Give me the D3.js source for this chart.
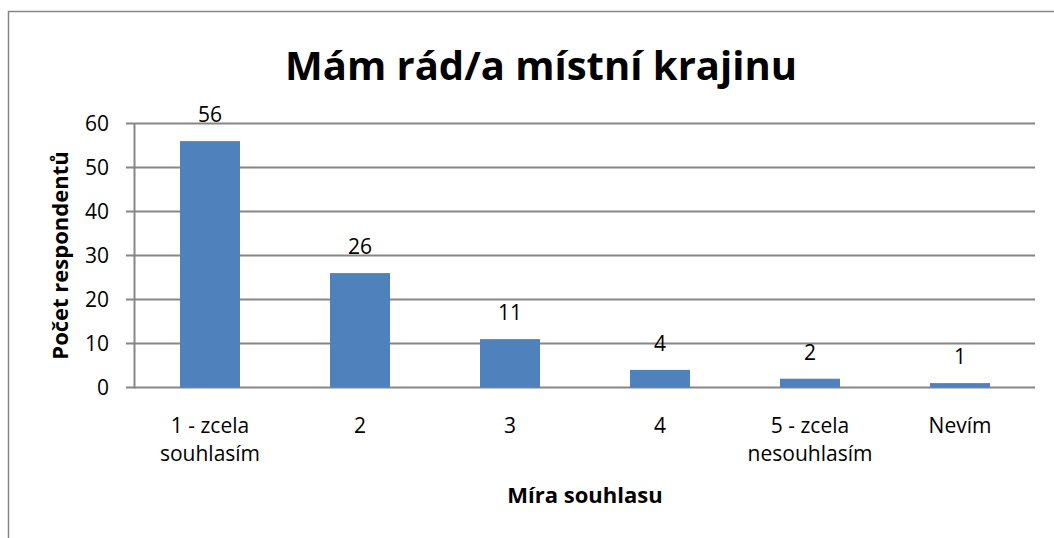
<!DOCTYPE html>
<html>
<head>
<meta charset="utf-8">
<script src="https://cdn.jsdelivr.net/npm/d3@7"></script>
<style>
  body { margin: 0; background: #fff; }
  text { font-family: "Open Sans", Lato, sans-serif; fill: #000; }
</style>
</head>
<body>
<div id="chart"></div>
<script>
const categories = [["1 - zcela", "souhlasím"], ["2"], ["3"], ["4"], ["5 - zcela", "nesouhlasím"], ["Nevím"]];
const values = [56, 26, 11, 4, 2, 1];
const yTicks = [0, 10, 20, 30, 40, 50, 60];
const titleText = "Mám rád/a místní krajinu";
const yTitle = "Počet respondentů";
const xTitle = "Míra souhlasu";

const width = 1054;
const height = 538;
const margin = { left: 135, right: 19, top: 123.5, bottom: 150.5 };
const innerW = width - margin.left - margin.right;
const innerH = height - margin.top - margin.bottom;
const gridColor = "#868686";
const barColor = "#4F81BD";
const labelSize = "21px";

const svg = d3
  .select("#chart")
  .append("svg")
  .attr("width", width)
  .attr("height", height);

// outer chart border (only top and left are inside the picture)
svg
  .append("rect")
  .attr("x", 8.5)
  .attr("y", 11.5)
  .attr("width", 1200)
  .attr("height", 700)
  .attr("fill", "none")
  .attr("stroke", gridColor)
  .attr("stroke-width", 1.5);

const xScale = d3
  .scaleBand()
  .domain(d3.range(values.length))
  .range([0, innerW])
  .paddingInner(0.6)
  .paddingOuter(0.3);

const yScale = d3.scaleLinear().domain([0, 60]).range([innerH, 0]);

const g = svg
  .append("g")
  .attr("transform", `translate(${margin.left}, ${margin.top})`);

// gridlines + y ticks
g.selectAll(".grid")
  .data(yTicks)
  .join("line")
  .attr("class", "grid")
  .attr("x1", -9)
  .attr("x2", innerW)
  .attr("y1", (d) => yScale(d))
  .attr("y2", (d) => yScale(d))
  .attr("stroke", gridColor)
  .attr("stroke-width", 2);

g.selectAll(".ytick")
  .data(yTicks)
  .join("text")
  .attr("class", "ytick")
  .attr("x", -26)
  .attr("y", (d) => yScale(d))
  .attr("dy", "0.36em")
  .attr("text-anchor", "end")
  .style("font-size", labelSize)
  .text((d) => d);

// bars
g.selectAll(".bar")
  .data(values)
  .join("rect")
  .attr("class", "bar")
  .attr("x", (d, i) => xScale(i))
  .attr("y", (d) => yScale(d))
  .attr("width", xScale.bandwidth())
  .attr("height", (d) => yScale(0) - yScale(d))
  .attr("fill", barColor);

// y axis line
g.append("line")
  .attr("x1", -0.5)
  .attr("x2", -0.5)
  .attr("y1", 0)
  .attr("y2", innerH + 1)
  .attr("stroke", gridColor)
  .attr("stroke-width", 2);

// data labels
g.selectAll(".label")
  .data(values)
  .join("text")
  .attr("class", "label")
  .attr("x", (d, i) => xScale(i) + xScale.bandwidth() / 2)
  .attr("y", (d) => yScale(d) - 19)
  .attr("text-anchor", "middle")
  .style("font-size", labelSize)
  .text((d) => d);

// category labels
g.selectAll(".xtick")
  .data(categories)
  .join("text")
  .attr("class", "xtick")
  .attr("text-anchor", "middle")
  .style("font-size", labelSize)
  .attr("transform", (d, i) => `translate(${xScale(i) + xScale.bandwidth() / 2}, ${innerH + 45})`)
  .selectAll("tspan")
  .data((d) => d)
  .join("tspan")
  .attr("x", 0)
  .attr("y", (d, i) => i * 28)
  .text((d) => d);

// titles
svg
  .append("text")
  .attr("x", 541)
  .attr("y", 80)
  .attr("text-anchor", "middle")
  .style("font-size", "40px")
  .style("font-weight", "bold")
  .text(titleText);

svg
  .append("text")
  .attr("transform", `translate(68, ${margin.top + innerH / 2}) rotate(-90)`)
  .attr("text-anchor", "middle")
  .style("font-size", "22px")
  .style("font-weight", "bold")
  .text(yTitle);

svg
  .append("text")
  .attr("x", margin.left + innerW / 2)
  .attr("y", 503)
  .attr("text-anchor", "middle")
  .style("font-size", "22px")
  .style("font-weight", "bold")
  .text(xTitle);
</script>
</body>
</html>
